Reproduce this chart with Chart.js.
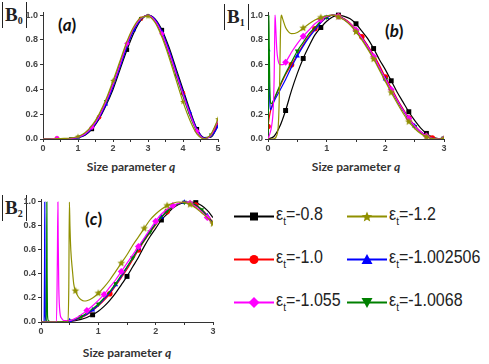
<!DOCTYPE html>
<html lang="en">
<head>
<meta charset="UTF-8">
<title>|B| versus size parameter q</title>
<script src="https://cdn.jsdelivr.net/npm/chart.js"></script>
<style>
    body {
        margin: 0;
        background: #fff;
        width: 489px;
        height: 364px;
        position: relative;
        overflow: hidden;
        font-family: "Liberation Sans", Arial, sans-serif;
    }
    canvas { position: absolute; }
    .blab {
        position: absolute;
        height: 26px;
        border-left: 1.3px solid #222;
        border-right: 1.3px solid #222;
        padding: 0 3px 0 2px;
        font-family: "Liberation Serif", serif;
        font-weight: bold;
        font-size: 19px;
        line-height: 25px;
        color: #222;
    }
    .blab sub { font-size: 10px; vertical-align: -3px; }
    .tag {
        position: absolute;
        font-family: Lato, "Open Sans", sans-serif;
        font-weight: bold;
        font-size: 17px;
        color: #111;
    }
    .xlab {
        position: absolute;
        font-family: Lato, "Open Sans", sans-serif;
        font-weight: bold;
        font-size: 12px;
        color: #333;
        transform: translateX(-50%);
        white-space: nowrap;
    }
    .leg {
        position: absolute;
        height: 20px;
        display: flex;
        align-items: center;
        font-size: 16px;
        color: #222;
    }
    .leg svg { margin-right: 2px; }
    .leg span { display: inline-block; transform: scaleY(1.12); }
    .leg sub { font-size: 10px; vertical-align: -4px; }
</style>
</head>
<body>

<div class="blab" style="left:2px; top:2px;">B<sub>0</sub></div>
<div class="blab" style="left:224px; top:4px;">B<sub>1</sub></div>
<div class="blab" style="left:2px; top:195px;">B<sub>2</sub></div>
<div class="tag" style="left:58px; top:14px;">(<i>a</i>)</div>
<div class="tag" style="left:385px; top:20px;">(<i>b</i>)</div>
<div class="tag" style="left:85px; top:208px;">(<i>c</i>)</div>
<div class="xlab" style="left:131px; top:159px;">Size parameter <i>q</i></div>
<div class="xlab" style="left:356px; top:159px;">Size parameter <i>q</i></div>
<div class="xlab" style="left:127px; top:345px;">Size parameter <i>q</i></div>

<canvas id="chartA" width="230" height="156" style="left:0; top:0;"></canvas>
<canvas id="chartB" width="240" height="156" style="left:228px; top:0;"></canvas>
<canvas id="chartC" width="225" height="156" style="left:0; top:186px;"></canvas>

<div id="legend"></div>

<script>
    // legend text (epsilon_t values)
    const epsLabels = ['-0.8', '-1.0', '-1.002506', '-1.0068', '-1.055', '-1.2'];

    // panel (a): |B0|, shared q grid
    const qA = [0, 0.2, 0.4, 0.6, 0.8, 1, 1.2, 1.4, 1.6, 1.8, 2, 2.2, 2.4, 2.6, 2.8, 3, 3.2, 3.4, 3.6, 3.8, 4, 4.2, 4.4, 4.6, 4.8, 5];
    const aBlack   = [0, 0, 0, 0, 0.003, 0.01, 0.03, 0.08, 0.16, 0.27, 0.4, 0.56, 0.72, 0.86, 0.96, 1.0, 0.97, 0.88, 0.74, 0.57, 0.4, 0.23, 0.08, 0.012, 0.015, 0.11];
    const aRed     = [0, 0, 0.004, 0.003, 0.005, 0.014, 0.04, 0.09, 0.175, 0.29, 0.43, 0.59, 0.76, 0.89, 0.97, 1.0, 0.96, 0.86, 0.71, 0.54, 0.37, 0.21, 0.075, 0.006, 0.025, 0.13];
    const aBlue    = [0, 0, 0.002, 0.002, 0.004, 0.012, 0.035, 0.085, 0.17, 0.28, 0.42, 0.58, 0.745, 0.88, 0.965, 1.0, 0.965, 0.865, 0.72, 0.55, 0.38, 0.215, 0.08, 0.008, 0.02, 0.1];
    const aGreen   = [0, 0, 0.004, 0.004, 0.006, 0.017, 0.045, 0.1, 0.19, 0.305, 0.45, 0.61, 0.775, 0.9, 0.975, 0.995, 0.95, 0.84, 0.685, 0.515, 0.345, 0.185, 0.06, 0.003, 0.035, 0.15];
    const aMagenta = [0, 0, 0.005, 0.003, 0.005, 0.015, 0.04, 0.095, 0.18, 0.3, 0.44, 0.6, 0.77, 0.9, 0.975, 0.995, 0.955, 0.85, 0.7, 0.53, 0.36, 0.2, 0.065, 0.004, 0.03, 0.15];
    const aOlive   = [0, 0, 0.003, 0.005, 0.008, 0.02, 0.05, 0.11, 0.2, 0.32, 0.47, 0.63, 0.79, 0.91, 0.98, 0.99, 0.94, 0.82, 0.66, 0.48, 0.3, 0.15, 0.04, 0.002, 0.04, 0.16];

    // panel (b): |B1|, [q, value]
    const bBlack = [[0,0],[0.1,0.02],[0.2,0.1],[0.3,0.23],[0.4,0.39],[0.5,0.53],[0.6,0.65],[0.7,0.75],[0.8,0.84],[0.9,0.9],[1,0.95],[1.1,0.985],[1.2,1],[1.3,0.99],[1.4,0.97],[1.5,0.93],[1.6,0.87],[1.7,0.81],[1.8,0.73],[1.9,0.64],[2,0.56],[2.1,0.47],[2.2,0.38],[2.3,0.3],[2.4,0.22],[2.5,0.15],[2.6,0.09],[2.7,0.045],[2.8,0.015],[2.9,0.003],[3,0]];
    const bRed = [[0,0.1],[0.02,0.17],[0.05,0.24],[0.1,0.31],[0.2,0.42],[0.3,0.52],[0.4,0.6],[0.5,0.68],[0.6,0.76],[0.7,0.83],[0.8,0.89],[0.9,0.94],[1,0.98],[1.1,1],[1.2,0.99],[1.3,0.97],[1.4,0.935],[1.5,0.885],[1.6,0.825],[1.7,0.755],[1.8,0.68],[1.9,0.595],[2,0.5],[2.1,0.415],[2.2,0.325],[2.3,0.245],[2.4,0.17],[2.5,0.11],[2.6,0.06],[2.7,0.025],[2.8,0.007],[2.9,0.001],[3,0]];
    const bBlue = [[0,0.72],[0.01,0.6],[0.02,0.45],[0.03,0.31],[0.04,0.235],[0.06,0.25],[0.08,0.275],[0.1,0.3],[0.2,0.39],[0.3,0.48],[0.4,0.58],[0.5,0.67],[0.6,0.75],[0.7,0.82],[0.8,0.88],[0.9,0.94],[1,0.98],[1.1,1],[1.2,0.99],[1.3,0.965],[1.4,0.925],[1.5,0.875],[1.6,0.815],[1.7,0.745],[1.8,0.665],[1.9,0.575],[2,0.485],[2.1,0.4],[2.2,0.315],[2.3,0.235],[2.4,0.165],[2.5,0.105],[2.6,0.058],[2.7,0.024],[2.8,0.006],[2.9,0.001],[3,0]];
    const bGreen = [[0,0],[0.005,0.25],[0.01,0.7],[0.015,1],[0.02,0.78],[0.03,0.45],[0.045,0.29],[0.06,0.285],[0.08,0.3],[0.1,0.32],[0.2,0.43],[0.3,0.53],[0.4,0.62],[0.5,0.71],[0.6,0.78],[0.7,0.85],[0.8,0.9],[0.9,0.95],[1,0.985],[1.1,1],[1.2,0.99],[1.3,0.965],[1.4,0.925],[1.5,0.875],[1.6,0.81],[1.7,0.74],[1.8,0.66],[1.9,0.57],[2,0.48],[2.1,0.395],[2.2,0.31],[2.3,0.23],[2.4,0.16],[2.5,0.1],[2.6,0.055],[2.7,0.022],[2.8,0.005],[2.9,0.001],[3,0]];
    const bMagenta = [[0,0],[0.03,0.04],[0.06,0.1],[0.09,0.25],[0.105,0.5],[0.115,0.85],[0.12,1],[0.13,0.92],[0.15,0.72],[0.17,0.64],[0.2,0.6],[0.25,0.6],[0.3,0.62],[0.4,0.7],[0.5,0.77],[0.6,0.83],[0.7,0.88],[0.8,0.93],[0.9,0.965],[1,0.99],[1.1,1],[1.2,0.99],[1.3,0.965],[1.4,0.93],[1.5,0.88],[1.6,0.815],[1.7,0.745],[1.8,0.665],[1.9,0.575],[2,0.485],[2.1,0.4],[2.2,0.315],[2.3,0.235],[2.4,0.165],[2.5,0.105],[2.6,0.058],[2.7,0.024],[2.8,0.006],[2.9,0.001],[3,0]];
    const bOlive = [[0,0],[0.1,0.002],[0.15,0.03],[0.18,0.15],[0.2,0.5],[0.21,0.8],[0.22,0.97],[0.23,1],[0.25,0.97],[0.3,0.9],[0.35,0.865],[0.4,0.85],[0.5,0.86],[0.6,0.895],[0.7,0.93],[0.8,0.96],[0.9,0.98],[1,0.995],[1.1,1],[1.2,0.985],[1.3,0.96],[1.4,0.92],[1.5,0.865],[1.6,0.8],[1.7,0.725],[1.8,0.645],[1.9,0.555],[2,0.465],[2.1,0.375],[2.2,0.29],[2.3,0.21],[2.4,0.14],[2.5,0.085],[2.6,0.045],[2.7,0.018],[2.8,0.004],[2.9,0],[3,0]];

    // panel (c): |B2|, [q, value]
    const cBlack = [[0,0],[0.1,0],[0.2,0],[0.3,0],[0.4,0.002],[0.5,0.005],[0.6,0.012],[0.7,0.022],[0.8,0.038],[0.9,0.06],[1,0.09],[1.1,0.13],[1.2,0.18],[1.3,0.24],[1.4,0.31],[1.5,0.38],[1.6,0.46],[1.7,0.54],[1.8,0.63],[1.9,0.71],[2,0.78],[2.1,0.85],[2.2,0.9],[2.3,0.95],[2.4,0.98],[2.5,0.995],[2.6,1],[2.7,0.995],[2.8,0.97],[2.9,0.93],[3,0.87]];
    const cRed = [[0,0],[0.1,0],[0.2,0],[0.3,0],[0.4,0.002],[0.5,0.008],[0.6,0.018],[0.7,0.035],[0.8,0.06],[0.9,0.095],[1,0.135],[1.1,0.18],[1.2,0.235],[1.3,0.3],[1.4,0.37],[1.5,0.44],[1.6,0.52],[1.7,0.6],[1.8,0.675],[1.9,0.745],[2,0.81],[2.1,0.87],[2.2,0.92],[2.3,0.955],[2.4,0.985],[2.5,1],[2.6,0.995],[2.7,0.975],[2.8,0.94],[2.9,0.89],[3,0.83]];
    const cBlue = [[0,0],[0.055,0],[0.062,0.5],[0.066,1],[0.07,0.4],[0.075,0.06],[0.09,0.01],[0.12,0.002],[0.2,0],[0.3,0],[0.4,0.002],[0.5,0.01],[0.6,0.02],[0.7,0.04],[0.8,0.065],[0.9,0.1],[1,0.14],[1.1,0.19],[1.2,0.245],[1.3,0.31],[1.4,0.38],[1.5,0.455],[1.6,0.535],[1.7,0.615],[1.8,0.69],[1.9,0.76],[2,0.82],[2.1,0.875],[2.2,0.925],[2.3,0.96],[2.4,0.985],[2.5,0.998],[2.6,0.995],[2.7,0.975],[2.8,0.935],[2.9,0.885],[3,0.825]];
    const cGreen = [[0,0],[0.09,0],[0.098,0.5],[0.102,1],[0.107,0.4],[0.113,0.06],[0.13,0.01],[0.16,0.002],[0.2,0],[0.3,0],[0.4,0.003],[0.5,0.012],[0.6,0.025],[0.7,0.045],[0.8,0.075],[0.9,0.11],[1,0.15],[1.1,0.2],[1.2,0.255],[1.3,0.32],[1.4,0.39],[1.5,0.46],[1.6,0.535],[1.7,0.61],[1.8,0.68],[1.9,0.75],[2,0.815],[2.1,0.875],[2.2,0.925],[2.3,0.96],[2.4,0.985],[2.5,0.998],[2.6,0.995],[2.7,0.975],[2.8,0.935],[2.9,0.88],[3,0.82]];
    const cMagenta = [[0,0],[0.27,0],[0.285,0.5],[0.295,1],[0.3,0.7],[0.31,0.3],[0.33,0.08],[0.36,0.03],[0.4,0.012],[0.5,0.012],[0.6,0.03],[0.7,0.06],[0.8,0.095],[0.9,0.135],[1,0.18],[1.1,0.23],[1.2,0.29],[1.3,0.35],[1.4,0.42],[1.5,0.49],[1.6,0.56],[1.7,0.63],[1.8,0.7],[1.9,0.77],[2,0.84],[2.1,0.9],[2.2,0.94],[2.3,0.97],[2.4,0.99],[2.5,1],[2.6,0.99],[2.7,0.96],[2.8,0.92],[2.9,0.87],[3,0.81]];
    const cOlive = [[0,0],[0.47,0],[0.485,0.3],[0.495,1],[0.505,0.8],[0.52,0.6],[0.55,0.42],[0.57,0.32],[0.6,0.26],[0.65,0.21],[0.7,0.185],[0.75,0.175],[0.8,0.177],[0.9,0.2],[1,0.24],[1.1,0.29],[1.2,0.35],[1.3,0.42],[1.4,0.49],[1.5,0.56],[1.6,0.64],[1.7,0.71],[1.8,0.78],[1.9,0.85],[2,0.9],[2.1,0.94],[2.2,0.97],[2.3,0.99],[2.4,1],[2.5,0.995],[2.6,0.98],[2.7,0.95],[2.8,0.91],[2.9,0.87],[3,0.82]];

    const yTicks = [0, 0.2, 0.4, 0.6, 0.8, 1.0];
    const xTicksA = [0, 0.5, 1, 1.5, 2, 2.5, 3, 3.5, 4, 4.5, 5];
    const xTicksBC = [0, 0.5, 1, 1.5, 2, 2.5, 3];

    const colors = {
        black: '#000000', red: '#ff0000', blue: '#0000ff',
        green: '#008000', magenta: '#ff00ff', olive: '#909000'
    };

    function starImage(color, r) {
        const c = document.createElement('canvas');
        const s = Math.ceil(r * 2) + 2;
        c.width = c.height = s;
        const g = c.getContext('2d');
        g.beginPath();
        for (let i = 0; i < 10; i++) {
            const a = -Math.PI / 2 + i * Math.PI / 5;
            const rr = i % 2 ? r * 0.45 : r;
            g.lineTo(s / 2 + rr * Math.cos(a), s / 2 + rr * Math.sin(a));
        }
        g.closePath();
        g.fillStyle = color;
        g.fill();
        return c;
    }

    // marker only on every `step` of q (starting at `from`)
    function markAt(r, step, phase, from) {
        return ctx => {
            const q = ctx.raw.x;
            if (q < from - 1e-9) return 0;
            const k = (q - phase) / step;
            return Math.abs(k - Math.round(k)) < 1e-6 ? r : 0;
        };
    }

    function toPts(arr) { return arr.map(p => ({ x: p[0], y: p[1] })); }
    function gridPts(q, v) { return q.map((x, i) => ({ x: x, y: v[i] })); }

    function line(label, color, data, style, radius, extra) {
        return Object.assign({
            label: label,
            data: data,
            borderColor: color,
            backgroundColor: color,
            borderWidth: 1.2,
            showLine: true,
            cubicInterpolationMode: 'monotone',
            pointStyle: style,
            pointRadius: radius,
            pointHoverRadius: 0,
            pointBorderWidth: 0
        }, extra || {});
    }

    const tickFont = { family: 'Liberation Sans', size: 9, weight: 'bold' };

    function scales(xmax, xTicks, yWidth, xHeight) {
        return {
            x: {
                type: 'linear', min: 0, max: xmax,
                afterBuildTicks: ax => { ax.ticks = xTicks.map(v => ({ value: v })); },
                afterFit: ax => { ax.height = xHeight; },
                grid: { drawOnChartArea: false, tickLength: 3, color: '#333' },
                border: { color: '#333', width: 1 },
                ticks: {
                    font: tickFont, color: '#444', padding: 1, maxRotation: 0,
                    callback: v => Number.isInteger(v) ? String(v) : ''
                }
            },
            y: {
                min: 0, max: 1.025,
                afterBuildTicks: ax => { ax.ticks = yTicks.map(v => ({ value: v })); },
                afterFit: ax => { ax.width = yWidth; },
                grid: { drawOnChartArea: false, tickLength: 3, color: '#333' },
                border: { color: '#333', width: 1 },
                ticks: { font: tickFont, color: '#444', padding: 2, callback: v => v.toFixed(1) }
            }
        };
    }

    function makeChart(id, datasets, xmax, xTicks, yWidth, xHeight, pad) {
        new Chart(document.getElementById(id), {
            type: 'scatter',
            data: { datasets: datasets },
            options: {
                responsive: false,
                animation: false,
                events: [],
                layout: { padding: pad },
                scales: scales(xmax, xTicks, yWidth, xHeight),
                plugins: { legend: { display: false }, tooltip: { enabled: false } }
            }
        });
    }

    const starA = starImage(colors.olive, 3);
    const starB = starImage(colors.olive, 4);

    makeChart('chartA', [
        line(epsLabels[5], colors.olive, gridPts(qA, aOlive), starA, markAt(2.5, 1, 0, 1)),
        line(epsLabels[4], colors.magenta, gridPts(qA, aMagenta), 'rectRot', markAt(2.8, 1, 0.4, 0.4)),
        line(epsLabels[3], colors.green, gridPts(qA, aGreen), 'triangle', markAt(2.5, 1, 0.8, 0.8), { pointRotation: 180 }),
        line(epsLabels[2], colors.blue, gridPts(qA, aBlue), 'triangle', markAt(2.5, 0.8, 0.2, 1)),
        line(epsLabels[1], colors.red, gridPts(qA, aRed), 'circle', markAt(2.3, 1.2, 0.4, 0.4)),
        line(epsLabels[0], colors.black, gridPts(qA, aBlack), 'rect', markAt(3, 1, 0.4, 0.4))
    ], 5, xTicksA, 43, 17, { top: 12, right: 12, left: 0, bottom: 0 });

    makeChart('chartB', [
        line(epsLabels[5], colors.olive, toPts(bOlive), starB, markAt(3, 0.3, 0, 0.6)),
        line(epsLabels[4], colors.magenta, toPts(bMagenta), 'rectRot', markAt(3.5, 0.3, 0, 0.3)),
        line(epsLabels[3], colors.green, toPts(bGreen), 'triangle', markAt(3, 0.5, 0, 0.5), { pointRotation: 180 }),
        line(epsLabels[2], colors.blue, toPts(bBlue), 'triangle', markAt(3, 0.5, 0, 0)),
        line(epsLabels[1], colors.red, toPts(bRed), 'circle', markAt(2.8, 0.4, 0, 0)),
        line(epsLabels[0], colors.black, toPts(bBlack), 'rect', markAt(3.5, 0.3, 0, 0.3))
    ], 3, xTicksBC, 40, 17, { top: 12, right: 24, left: 0, bottom: 0 });

    makeChart('chartC', [
        line(epsLabels[5], colors.olive, toPts(cOlive), starB, markAt(3, 0.4, 0.2, 0.55)),
        line(epsLabels[4], colors.magenta, toPts(cMagenta), 'rectRot', markAt(3.5, 0.3, 0.2, 0.8)),
        line(epsLabels[3], colors.green, toPts(cGreen), 'triangle', markAt(3, 0.3, 0.1, 0.7), { pointRotation: 180 }),
        line(epsLabels[2], colors.blue, toPts(cBlue), 'triangle', markAt(3, 0.4, 0.1, 0.5)),
        line(epsLabels[1], colors.red, toPts(cRed), 'circle', markAt(2.8, 0.5, 0.2, 1)),
        line(epsLabels[0], colors.black, toPts(cBlack), 'rect', markAt(3.5, 0.6, 0.3, 0.8))
    ], 3, xTicksBC, 41, 20, { top: 13, right: 12, left: 0, bottom: 0 });

    // legend: two columns, three rows
    const legendItems = [
        { i: 0, color: colors.black, shape: 'square', left: 234, top: 206 },
        { i: 5, color: colors.olive, shape: 'star', left: 347, top: 206 },
        { i: 1, color: colors.red, shape: 'circle', left: 234, top: 249 },
        { i: 2, color: colors.blue, shape: 'tri', left: 347, top: 249 },
        { i: 4, color: colors.magenta, shape: 'diamond', left: 234, top: 292 },
        { i: 3, color: colors.green, shape: 'triDown', left: 347, top: 292 }
    ];

    function symbolSvg(shape, color) {
        let m = '';
        if (shape === 'square') m = `<rect x="16" y="3.5" width="8" height="8" fill="${color}"/>`;
        if (shape === 'circle') m = `<circle cx="20" cy="7.5" r="4.5" fill="${color}"/>`;
        if (shape === 'tri') m = `<polygon points="20,2 25.5,12 14.5,12" fill="${color}"/>`;
        if (shape === 'triDown') m = `<polygon points="14.5,3 25.5,3 20,13" fill="${color}"/>`;
        if (shape === 'diamond') m = `<polygon points="20,2 25.5,7.5 20,13 14.5,7.5" fill="${color}"/>`;
        if (shape === 'star') {
            const p = [];
            for (let k = 0; k < 10; k++) {
                const a = -Math.PI / 2 + k * Math.PI / 5;
                const rr = k % 2 ? 2.4 : 5.5;
                p.push((20 + rr * Math.cos(a)).toFixed(2) + ',' + (8 + rr * Math.sin(a)).toFixed(2));
            }
            m = `<polygon points="${p.join(' ')}" fill="${color}"/>`;
        }
        return `<svg width="40" height="15" viewBox="0 0 40 15"><line x1="0" y1="7.5" x2="40" y2="7.5" stroke="${color}" stroke-width="2"/>${m}</svg>`;
    }

    const legend = document.getElementById('legend');
    legendItems.forEach(it => {
        const d = document.createElement('div');
        d.className = 'leg';
        d.style.left = it.left + 'px';
        d.style.top = it.top + 'px';
        d.innerHTML = symbolSvg(it.shape, it.color) + `<span>&epsilon;<sub>t</sub>=${epsLabels[it.i]}</span>`;
        legend.appendChild(d);
    });
</script>

</body>
</html>
